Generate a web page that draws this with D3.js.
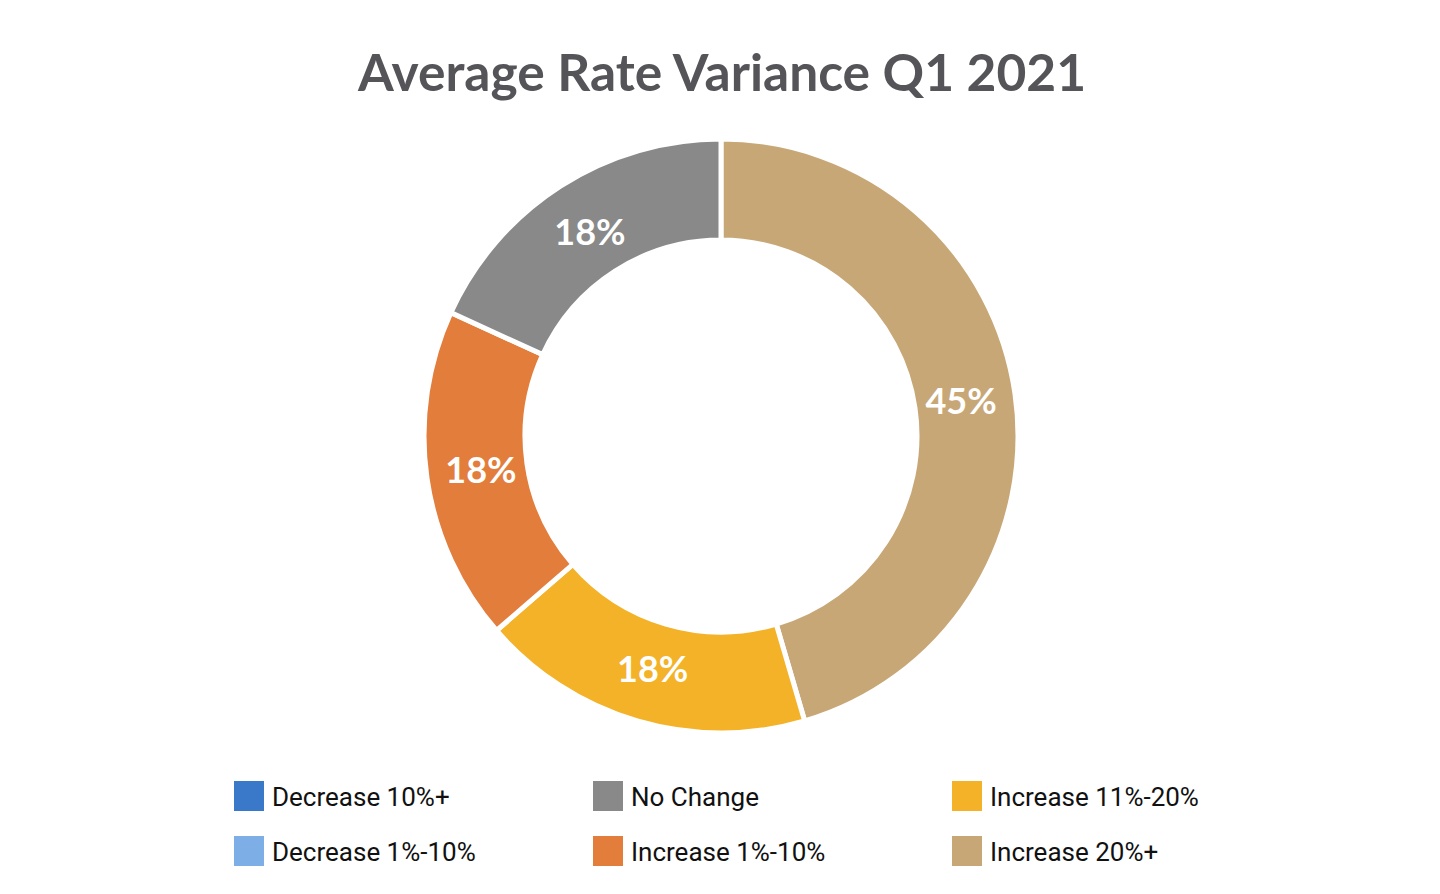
<!DOCTYPE html>
<html>
<head>
<style>
  body { margin: 0; background: #fff; }
</style>
</head>
<body>
<div id="vis"></div>
<script src="https://d3js.org/d3.v7.min.js"></script>
<script>
    // data, in the clockwise order the slices appear from 12 o'clock
    let categories = ["Increase 20%+", "Increase 11%-20%", "Increase 1%-10%", "No Change", "Decrease 10%+", "Decrease 1%-10%"];
    let counts = [5, 2, 2, 2, 0, 0];
    let colors = ["#C8A777", "#F3B228", "#E27D3C", "#898989", "#3A78C9", "#7DAEE6"];
    // legend order (column by column, like the original)
    let legendOrder = ["Decrease 10%+", "Decrease 1%-10%", "No Change", "Increase 1%-10%", "Increase 11%-20%", "Increase 20%+"];

    let width = 1440, height = 894;
    let cx = 721, cy = 436, outerR = 297, innerR = 196;

    let svg = d3.select("#vis")
        .append("svg")
        .attr("width", width)
        .attr("height", height);

    // title
    svg.append("text")
        .attr("x", 722)
        .attr("y", 91)
        .attr("text-anchor", "middle")
        .style("font-family", "Lato")
        .style("font-weight", "bold")
        .style("font-size", "51.5px")
        .style("fill", "#555559")
        .text("Average Rate Variance Q1 2021");

    let color = d3.scaleOrdinal().domain(categories).range(colors);
    let total = d3.sum(counts);
    let data = categories.map((c, i) => ({name: c, value: counts[i]}));

    let pie = d3.pie().sort(null).value(d => d.value);
    let arc = d3.arc().innerRadius(innerR).outerRadius(outerR);
    let labelArc = d3.arc().innerRadius(innerR - 4).outerRadius(outerR - 4);

    let g = svg.append("g")
        .attr("transform", "translate(" + cx + "," + cy + ")");

    let arcs = pie(data).filter(d => d.data.value > 0);

    g.selectAll("path")
        .data(arcs)
        .enter()
        .append("path")
        .attr("d", arc)
        .style("fill", d => color(d.data.name))
        .style("stroke", "#fff")
        .style("stroke-width", 5);

    // percentage labels
    g.selectAll("text.lbl")
        .data(arcs)
        .enter()
        .append("text")
        .attr("class", "lbl")
        .attr("transform", d => "translate(" + labelArc.centroid(d) + ")")
        .attr("text-anchor", "middle")
        .attr("dy", "0.36em")
        .style("font-family", "Lato")
        .style("font-weight", "bold")
        .style("font-size", "36px")
        .style("fill", "#fff")
        .text(d => d3.format(".0%")(d.data.value / total));

    // legend
    let legend = svg.append("g");
    let items = legend.selectAll("g")
        .data(legendOrder)
        .enter()
        .append("g")
        .attr("transform", (d, i) => "translate(" + (234 + Math.floor(i / 2) * 359) + "," + (781 + (i % 2) * 55) + ")");

    items.append("rect")
        .attr("width", 30)
        .attr("height", 30)
        .style("fill", d => color(d));

    items.append("text")
        .attr("x", 38)
        .attr("y", 25)
        .style("font-family", "Roboto")
        .style("font-size", "26px")
        .style("fill", "#111")
        .text(d => d);
</script>
</body>
</html>
